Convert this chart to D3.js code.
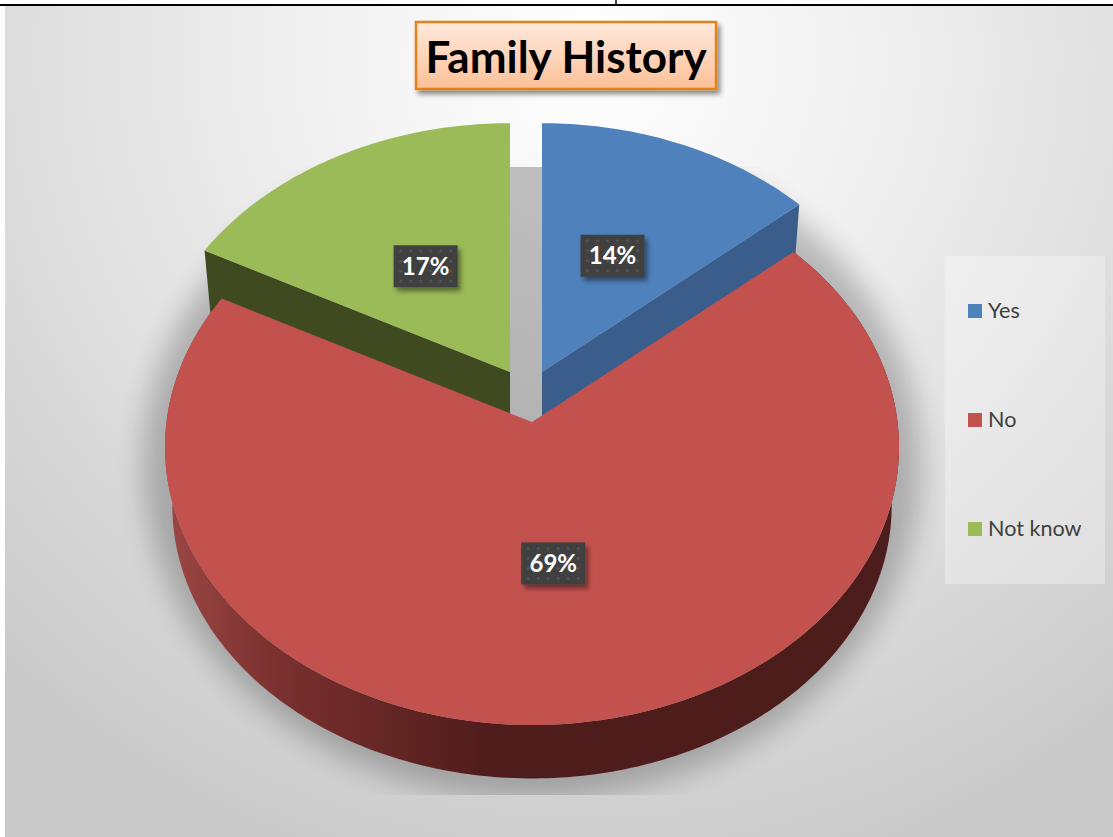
<html>
  <body style="margin:0;background:#fff">
    <script src="https://d3js.org/d3.v7.min.js"></script>
    <div id="main"></div>
    <script>
      // chart data (labels show them rounded)
      const categories = ["Yes", "No", "Not know"];
      const shares = [13.7, 69, 17.3];
      const topColors = ["#4f81bd", "#c3524e", "#9bbb59"];
      const sideColors = ["#3a5d8c", "url(#redSide)", "#3f4a20"];
      const chartTitle = "Family History";

      const W = 1113, H = 837;
      const svg = d3.select("#main").append("svg")
        .attr("width", W).attr("height", H)
        .style("display", "block")
        .style("font-family", "Lato, sans-serif");
      const defs = svg.append("defs");

      // Gradients and filters
      const bgGrad = defs.append("radialGradient").attr("id", "bg")
        .attr("gradientUnits", "userSpaceOnUse")
        .attr("cx", 590).attr("cy", 60).attr("r", 850);
      [[0, "#ffffff"], [0.3, "#f2f2f2"], [0.6, "#e2e2e2"], [0.75, "#d8d8d8"], [1, "#c9c9c9"]].forEach(s =>
        bgGrad.append("stop").attr("offset", s[0]).attr("stop-color", s[1]));

      const redSide = defs.append("linearGradient").attr("id", "redSide")
        .attr("gradientUnits", "userSpaceOnUse")
        .attr("x1", 172).attr("x2", 892).attr("y1", 0).attr("y2", 0);
      [[0, "#9a4643"], [0.15, "#7a302e"], [0.45, "#4e1c1b"], [1, "#4c1d1c"]].forEach(s =>
        redSide.append("stop").attr("offset", s[0]).attr("stop-color", s[1]));

      const titleGrad = defs.append("linearGradient").attr("id", "titleFill")
        .attr("x1", 0).attr("x2", 0).attr("y1", 0).attr("y2", 1);
      titleGrad.append("stop").attr("offset", 0).attr("stop-color", "#ffe9dd");
      titleGrad.append("stop").attr("offset", 1).attr("stop-color", "#fdc097");

      defs.append("filter").attr("id", "blur")
        .attr("x", "-10%").attr("y", "-10%").attr("width", "120%").attr("height", "120%")
        .append("feGaussianBlur").attr("stdDeviation", 14);

      const boxShadow = defs.append("filter").attr("id", "boxShadow")
        .attr("x", "-20%").attr("y", "-30%").attr("width", "140%").attr("height", "170%");
      boxShadow.append("feDropShadow")
        .attr("dx", 3).attr("dy", 4).attr("stdDeviation", 2.5)
        .attr("flood-color", "#000").attr("flood-opacity", 0.45);

      const dots = defs.append("pattern").attr("id", "dots")
        .attr("width", 10).attr("height", 10).attr("patternUnits", "userSpaceOnUse");
      dots.append("rect").attr("width", 10).attr("height", 10).attr("fill", "#3f3f3f");
      dots.append("circle").attr("cx", 5).attr("cy", 5).attr("r", 1.6).attr("fill", "#555");

      // the shadow has hard edges at the top and bottom of the plot area
      defs.append("clipPath").attr("id", "floor").append("rect")
        .attr("x", 5).attr("y", 167).attr("width", W).attr("height", 628);

      // Background and the ruled line from the page above
      svg.append("rect").attr("x", 5).attr("y", 6).attr("width", W - 5).attr("height", H - 6).attr("fill", "url(#bg)");
      svg.append("line").attr("x1", 0).attr("x2", W).attr("y1", 5).attr("y2", 5).attr("stroke", "#000").attr("stroke-width", 2);
      svg.append("line").attr("x1", 616).attr("x2", 616).attr("y1", 0).attr("y2", 5).attr("stroke", "#000").attr("stroke-width", 1.5);

      // Tilted pie: the whole pie shares one ellipse, seen in perspective, so the
      // apex sits above the ellipse centre
      const pie = d3.pie().sort(null).startAngle(0).endAngle(2 * Math.PI);
      const arcs = pie(shares);

      const tilt = 0.757;
      const rx = 367, ry = 278;
      const centre = { x: 532, y: 447 };
      const apexLift = 25;
      const explode = [{ x: 10, y: -50, s: 0.985 }, { x: 0, y: 0, s: 1 }, { x: -22, y: -50, s: 0.985 }];
      const floorDrop = 59, floorScale = 0.98;
      const sideDepth = [60, 53, 60];
      const labelFrac = [0.51, 0.47, 0.49];

      function rim(angle, e, dropped, depth) {
        const k = dropped ? floorScale : 1;
        const a = rx * e.s * k, b = ry * e.s * k;
        const cx = centre.x + e.x, cy = centre.y + e.y + (dropped ? floorDrop : 0);
        const px = centre.x + e.x;
        const py = centre.y + e.y - apexLift + (dropped ? depth : 0);
        const dx = Math.sin(angle), dy = -Math.cos(angle) * tilt;
        // ray from the apex to the ellipse
        const ox = (px - cx) / a, oy = (py - cy) / b, ux = dx / a, uy = dy / b;
        const A = ux * ux + uy * uy, B = 2 * (ox * ux + oy * uy), C = ox * ox + oy * oy - 1;
        const t = (-B + Math.sqrt(B * B - 4 * A * C)) / (2 * A);
        return { x: px + t * dx, y: py + t * dy, apex: [px, py], t: t, dx: dx, dy: dy };
      }

      function sweep(d, e, dropped, depth) {
        const n = Math.ceil((d.endAngle - d.startAngle) * 60);
        return d3.range(n + 1).map(i => {
          const p = rim(d.startAngle + (d.endAngle - d.startAngle) * i / n, e, dropped, depth);
          return [p.x, p.y];
        });
      }

      const line = d3.line();

      // Floor shadow of the whole pie
      svg.append("g").attr("clip-path", "url(#floor)")
        .append("ellipse")
        .attr("cx", centre.x).attr("cy", centre.y + 18)
        .attr("rx", rx + 22).attr("ry", ry + 56)
        .attr("fill", "#000").attr("opacity", 0.23)
        .attr("filter", "url(#blur)");

      // Legend panel
      const legend = svg.append("g");
      legend.append("rect").attr("x", 945).attr("y", 256).attr("width", 160).attr("height", 328)
        .attr("fill", "#fff").attr("opacity", 0.3);
      const legendY = d3.scalePoint().domain(categories).range([311, 529]);
      const legendRows = legend.selectAll("g").data(categories).join("g")
        .attr("transform", d => `translate(968,${legendY(d)})`);
      legendRows.append("rect").attr("y", -7).attr("width", 14).attr("height", 14)
        .attr("fill", (d, i) => topColors[i]);
      legendRows.append("text").attr("x", 20).attr("y", 7)
        .attr("font-size", 21.6).attr("fill", "#404040").text(d => d);

      // Slices: the two raised ones first, the big red one on top of their sides
      const order = [0, 2, 1];
      const slices = svg.append("g");
      order.forEach(i => {
        const d = arcs[i], e = explode[i], depth = sideDepth[i];
        const top = sweep(d, e, false, depth);
        const low = sweep(d, e, true, depth);
        const apex = rim(d.startAngle, e, false, depth).apex;
        const lowApex = rim(d.startAngle, e, true, depth).apex;
        // raised slices show their cut face, the red one shows its outer wall
        const side = i === 1
          ? top.concat(low.slice().reverse())
          : [apex].concat(i === 0 ? [top[top.length - 1], low[low.length - 1]] : [top[0], low[0]], [lowApex]);
        slices.append("path").attr("d", line(side) + "Z").attr("fill", sideColors[i]);
        slices.append("path").attr("d", line([apex].concat(top)) + "Z").attr("fill", topColors[i]);
      });

      // Data labels
      const labels = svg.append("g");
      arcs.forEach((d, i) => {
        const p = rim((d.startAngle + d.endAngle) / 2, explode[i], false, 0);
        const x = p.apex[0] + p.t * labelFrac[i] * p.dx;
        const y = p.apex[1] + p.t * labelFrac[i] * p.dy;
        const g = labels.append("g").attr("transform", `translate(${x},${y})`);
        g.append("rect").attr("x", -32).attr("y", -21).attr("width", 64).attr("height", 42)
          .attr("fill", "url(#dots)").attr("filter", "url(#boxShadow)");
        g.append("text").attr("text-anchor", "middle").attr("y", 8.5)
          .attr("font-size", 24).attr("font-weight", 700).attr("fill", "#fff")
          .text(Math.round(d.data) + "%");
      });

      // Title
      svg.append("rect").attr("x", 416).attr("y", 22).attr("width", 300).attr("height", 67)
        .attr("fill", "url(#titleFill)").attr("stroke", "#e3821c").attr("stroke-width", 2.5)
        .attr("filter", "url(#boxShadow)");
      svg.append("text").attr("x", 566).attr("y", 73).attr("text-anchor", "middle")
        .attr("font-size", 44).attr("font-weight", 700).attr("fill", "#000")
        .text(chartTitle);
    </script>
  </body>
</html>
